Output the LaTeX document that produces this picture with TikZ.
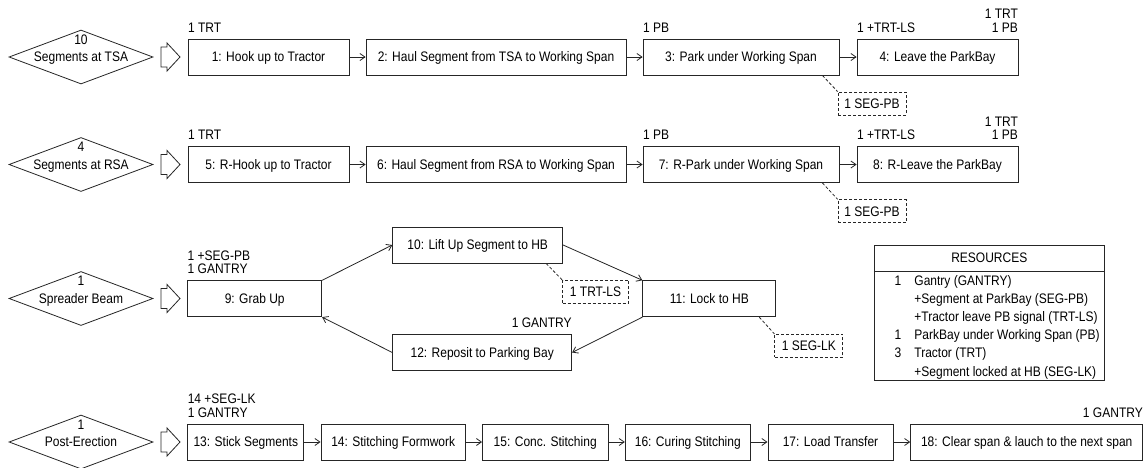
\documentclass[tikz,border=0pt]{standalone}
\usepackage{fontspec}
\setmainfont{Liberation Sans}[FakeStretch=0.87]
\usetikzlibrary{arrows.meta}
\usetikzlibrary{shapes.geometric}
\newcommand{\pusharrow}[1]{%
  \draw[fill=white] (161,#1-10) -- (167,#1-10) -- (167,#1-14) -- (180,#1)
    -- (167,#1+14) -- (167,#1+10) -- (161,#1+10) -- cycle;}

\begin{document}
\begin{tikzpicture}[x=1pt, y=-1pt, line width=0.8pt, draw=black!85,
  every node/.style={font=\fontsize{13.8}{13.5}\selectfont, inner sep=0pt},
  act/.style={draw, fill=white, minimum height=36pt, text height=9.9pt, text depth=0pt},
  src/.style={draw, diamond, aspect=2.67, minimum width=144pt, minimum height=54pt,
    text height=9.9pt, text depth=0pt},
  need/.style={draw, dsh, minimum height=23pt, text height=9.9pt, text depth=0pt},
  dsh/.style={dash pattern=on 3pt off 2pt},
  flow/.style={-{Straight Barb[length=5pt,width=7pt]}},
  tag/.style={anchor=south west, align=left},
  rtag/.style={anchor=south east, align=right},
  rnum/.style={anchor=base},
  rrow/.style={anchor=base west}]

	\path[use as bounding box, fill=white] (0,0) rectangle (1148,467);
	
	%riga 1
	\node[src] (d1) at (81,57) {Segments at TSA};
	\node (n1) at ([yshift=-10pt]d1.north) {10};
	\pusharrow{57}
	\node[act, minimum width=161pt] (b1) at (268.5,57) {1: Hook up to Tractor};
	\node[act, minimum width=260pt] (b2) at (496,57) {2: Haul Segment from TSA to Working Span};
	\node[act, minimum width=196pt] (b3) at (741,57) {3: Park under Working Span};
	\node[act, minimum width=161pt] (b4) at (937.5,57) {4: Leave the ParkBay};
	\draw[flow] (b1) -- (b2);
	\draw[flow] (b2) -- (b3);
	\draw[flow] (b3) -- (b4);
	\node[tag] (t1) at ([yshift=6pt]b1.north west) {1 TRT};
	\node[tag] (t3) at ([yshift=6pt]b3.north west) {1 PB};
	\node[tag] (t4) at ([yshift=6pt]b4.north west) {1 +TRT-LS};
	\node[rtag] (u4) at ([yshift=6pt]b4.north east) {1 TRT\\1 PB};
	\node[need, minimum width=68pt] (k1) at (872,103.5) {1 SEG-PB};
	\draw[dsh] ([xshift=-17pt]b3.south east) -- (k1.north west);
	
	%riga 2
	\node[src] (d2) at (81,164.5) {Segments at RSA};
	\node (n2) at ([yshift=-10pt]d2.north) {4};
	\pusharrow{164.5}
	\node[act, minimum width=161pt] (b5) at (268.5,164.5) {5: R-Hook up to Tractor};
	\node[act, minimum width=260pt] (b6) at (496,164.5) {6: Haul Segment from RSA to Working Span};
	\node[act, minimum width=196pt] (b7) at (741,164.5) {7: R-Park under Working Span};
	\node[act, minimum width=161pt] (b8) at (937.5,164.5) {8: R-Leave the ParkBay};
	\draw[flow] (b5) -- (b6);
	\draw[flow] (b6) -- (b7);
	\draw[flow] (b7) -- (b8);
	\node[tag] (t5) at ([yshift=6pt]b5.north west) {1 TRT};
	\node[tag] (t7) at ([yshift=6pt]b7.north west) {1 PB};
	\node[tag] (t8) at ([yshift=6pt]b8.north west) {1 +TRT-LS};
	\node[rtag] (u8) at ([yshift=6pt]b8.north east) {1 TRT\\1 PB};
	\node[need, minimum width=68pt] (k2) at (872,211.2) {1 SEG-PB};
	\draw[dsh] ([xshift=-17pt]b7.south east) -- (k2.north west);
	
	%riga 3
	\node[src] (d3) at (81,298.5) {Spreader Beam};
	\node (n3) at ([yshift=-10pt]d3.north) {1};
	\pusharrow{298.5}
	\node[act, minimum width=134pt] (b9) at (254.7,298.7) {9: Grab Up};
	\node[act, minimum width=170pt] (b10) at (477.7,245) {10: Lift Up Segment to HB};
	\node[act, minimum width=133pt] (b11) at (709.3,298.7) {11: Lock to HB};
	\node[act, minimum width=179pt] (b12) at (482.2,352.5) {12: Reposit to Parking Bay};
	\draw[flow] (b9.north east) -- (b10.west);
	\draw[flow] (b10.east) -- (b11.north west);
	\draw[flow] (b11.south west) -- (b12.east);
	\draw[flow] (b12.west) -- (b9.south east);
	\node[tag] (t9) at ([yshift=6pt]b9.north west) {1 +SEG-PB\\1 GANTRY};
	\node[rtag] (u12) at ([yshift=6pt]b12.north east) {1 GANTRY};
	\node[need, minimum width=66pt] (k3) at (595.5,291.7) {1 TRT-LS};
	\node[need, minimum width=68pt] (k4) at (808.8,345.8) {1 SEG-LK};
	\draw[dsh] ([xshift=-17pt]b10.south east) -- (k3.north west);
	\draw[dsh] ([xshift=-17pt]b11.south east) -- (k4.north west);
	
	%risorse
	\node[draw, minimum width=230pt, minimum height=135pt] (res) at (989.3,312.5) {};
	\coordinate (hl) at (0,271.7);
	\draw (res.west |- hl) -- (res.east |- hl);
	\node (rh) at (989.3,257.7) {RESOURCES};
	\node[rnum] (q1) at (898,285) {1};
	\node[rrow] (r1) at (914,285) {Gantry (GANTRY)};
	\node[rrow] (r2) at (914,303.2) {+Segment at ParkBay (SEG-PB)};
	\node[rrow] (r3) at (914,321.4) {+Tractor leave PB signal (TRT-LS)};
	\node[rnum] (q4) at (898,339.6) {1};
	\node[rrow] (r4) at (914,339.6) {ParkBay under Working Span (PB)};
	\node[rnum] (q5) at (898,357.8) {3};
	\node[rrow] (r5) at (914,357.8) {Tractor (TRT)};
	\node[rrow] (r6) at (914,376) {+Segment locked at HB (SEG-LK)};
	
	%riga 4
	\node[src] (d4) at (81,442) {Post-Erection};
	\node (n4) at ([yshift=-10pt]d4.north) {1};
	\pusharrow{442}
	\node[act, minimum width=116pt] (b13) at (245.8,442) {13: Stick Segments};
	\node[act, minimum width=144.5pt] (b14) at (393.2,442) {14: Stitching Formwork};
	\node[act, minimum width=125.5pt] (b15) at (545.2,442) {15: Conc. Stitching};
	\node[act, minimum width=125.2pt] (b16) at (687.8,442) {16: Curing Stitching};
	\node[act, minimum width=125.2pt] (b17) at (830.5,442) {17: Load Transfer};
	\node[act, minimum width=232.2pt] (b18) at (1026.7,442) {18: Clear span \& lauch to the next span};
	\draw[flow] (b13) -- (b14);
	\draw[flow] (b14) -- (b15);
	\draw[flow] (b15) -- (b16);
	\draw[flow] (b16) -- (b17);
	\draw[flow] (b17) -- (b18);
	\node[tag] (t13) at ([yshift=6pt]b13.north west) {14 +SEG-LK\\1 GANTRY};
	\node[rtag] (u18) at ([yshift=6pt]b18.north east) {1 GANTRY};
	
\end{tikzpicture}
\end{document}
